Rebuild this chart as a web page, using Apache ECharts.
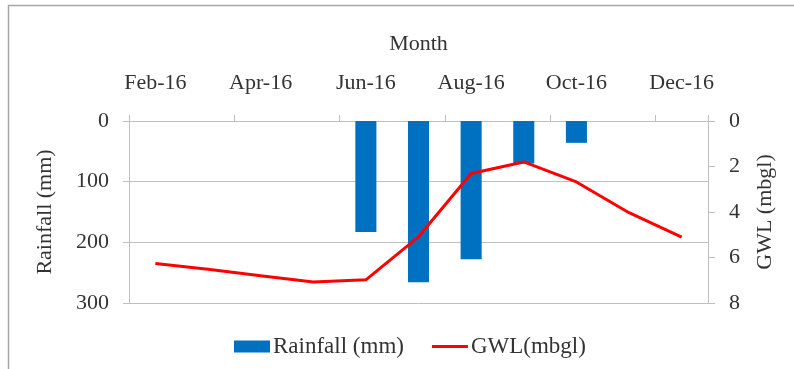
<!DOCTYPE html>
<html>
<head>
<meta charset="utf-8">
<script src="https://cdn.jsdelivr.net/npm/echarts@6/dist/echarts.min.js"></script>
<style>
  html, body { margin: 0; padding: 0; background: #fff; }
  #chart { width: 794px; height: 369px; }
</style>
</head>
<body>
<div id="chart"></div>
<script>
// Monthly rainfall and groundwater level, 2016
const months = ['Feb-16', 'Mar-16', 'Apr-16', 'May-16', 'Jun-16', 'Jul-16',
                'Aug-16', 'Sep-16', 'Oct-16', 'Nov-16', 'Dec-16'];
const rainfall = [0, 0, 0, 0, 183, 266, 228, 70, 36, 0, 0];          // mm
const gwl = [6.26, 6.52, 6.8, 7.08, 6.98, 5.09, 2.31, 1.8, 2.68, 4.03, 5.1]; // m below ground
const rainTicks = [0, 300, 100];   // min, max, step
const gwlTicks = [0, 8, 2];

const FONT = 'Liberation Serif';
const TXT = '#333333';
const GRID = '#bfbfbf';
const FS = 22;

const chart = echarts.init(document.getElementById('chart'));
chart.setOption({
  animation: false,
  textStyle: { fontFamily: FONT, color: TXT },
  graphic: [{
    type: 'rect',
    shape: { x: 8.5, y: 5.5, width: 900, height: 500 },
    style: { fill: 'none', stroke: '#a6a6a6', lineWidth: 1.5 },
    silent: true
  }],
  grid: { left: 129, right: 86, top: 121, bottom: 66 },
  legend: {
    left: 234, top: 335, padding: 0,
    itemGap: 28, itemWidth: 36, itemHeight: 12,
    textStyle: { fontFamily: FONT, fontSize: 23, color: TXT, padding: [0, 0, 0, -2] },
    data: [
      { name: 'Rainfall (mm)', icon: 'rect' },
      { name: 'GWL(mbgl)', icon: 'path://M0,0L36,0L36,3L0,3Z' }
    ]
  },
  xAxis: {
    type: 'category',
    position: 'top',
    data: months,
    boundaryGap: true,
    name: 'Month',
    nameLocation: 'middle',
    nameGap: 66,
    nameTextStyle: { fontFamily: FONT, fontSize: FS, color: TXT },
    axisLine: { show: true, lineStyle: { color: GRID, width: 1 } },
    axisTick: { show: true, interval: 1, length: 6, lineStyle: { color: GRID } },
    axisLabel: { interval: 1, margin: 27, fontFamily: FONT, fontSize: FS, color: TXT },
    splitLine: { show: false }
  },
  yAxis: [{
    type: 'value',
    inverse: true,
    min: rainTicks[0], max: rainTicks[1], interval: rainTicks[2],
    position: 'left',
    name: 'Rainfall (mm)',
    nameLocation: 'middle',
    nameRotate: 90,
    nameGap: 73,
    nameTextStyle: { fontFamily: FONT, fontSize: FS, color: TXT },
    axisLine: { show: true, lineStyle: { color: GRID, width: 1 } },
    axisTick: { show: true, length: 6, lineStyle: { color: GRID } },
    axisLabel: { margin: 20, fontFamily: FONT, fontSize: FS, color: TXT },
    splitLine: { show: true, lineStyle: { color: GRID, width: 1 } }
  }, {
    type: 'value',
    inverse: true,
    min: gwlTicks[0], max: gwlTicks[1], interval: gwlTicks[2],
    position: 'right',
    name: 'GWL (mbgl)',
    nameLocation: 'middle',
    nameRotate: 90,
    nameGap: 46,
    nameTextStyle: { fontFamily: FONT, fontSize: FS, color: TXT },
    axisLine: { show: true, lineStyle: { color: GRID, width: 1 } },
    axisTick: { show: true, length: 7, lineStyle: { color: GRID } },
    axisLabel: { margin: 21, fontFamily: FONT, fontSize: FS, color: TXT },
    splitLine: { show: false }
  }],
  series: [{
    name: 'Rainfall (mm)',
    type: 'bar',
    yAxisIndex: 0,
    data: rainfall,
    barWidth: '40%',
    itemStyle: { color: '#0070c0' },
    z: 2
  }, {
    name: 'GWL(mbgl)',
    type: 'line',
    yAxisIndex: 1,
    data: gwl,
    symbol: 'none',
    lineStyle: { color: '#ff0000', width: 3 },
    itemStyle: { color: '#ff0000' },
    z: 3
  }]
});
</script>
</body>
</html>
